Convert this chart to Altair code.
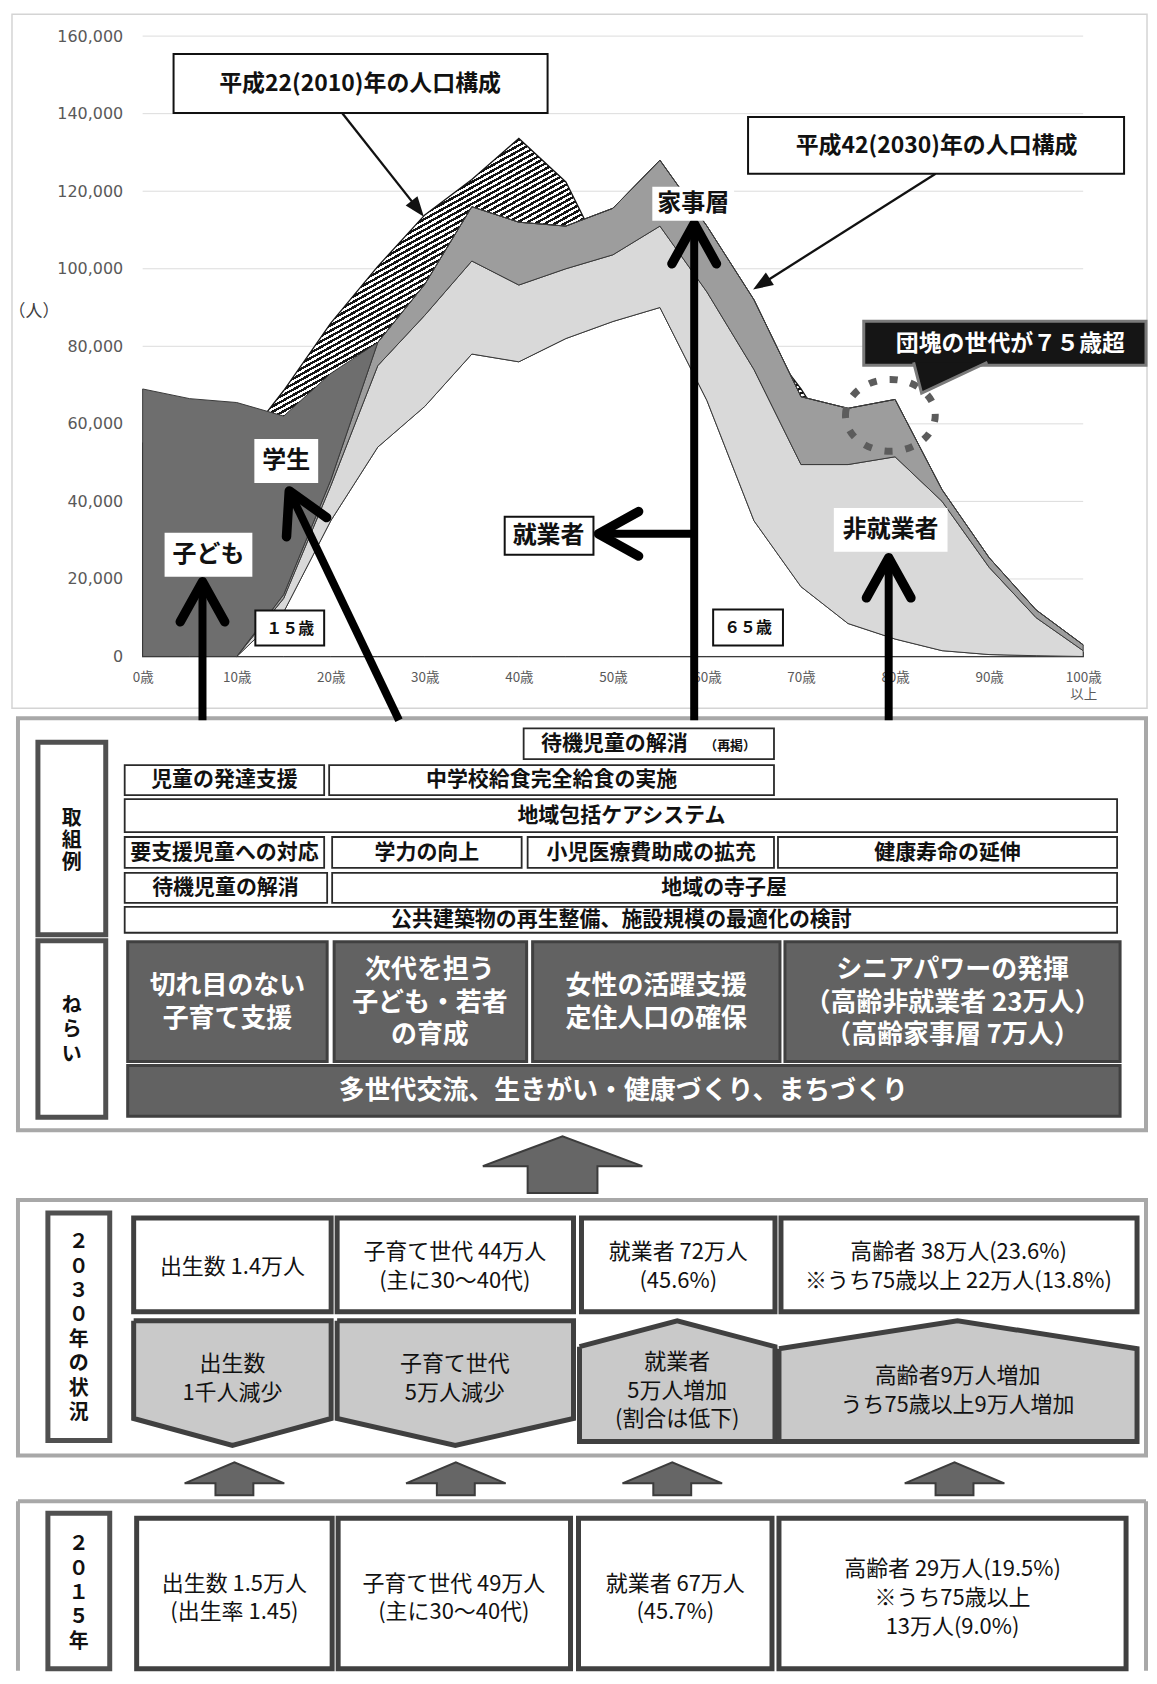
import math
import altair as alt
import pandas as pd

JP = "Noto Sans CJK JP"

# ---------------- population data (persons) ----------------
AGES = [0, 5, 10, 15, 20, 25, 30, 35, 40, 45, 50, 55, 60, 65, 70, 75, 80, 85, 90, 95, 100]
POP_2010 = [55000, 54000, 53000, 68600, 86000, 100600, 113900, 123000, 133600, 122400, 98000,
            95000, 90000, 85000, 69000, 50000, 35000, 20000, 8000, 3000, 1000]
WORKERS_2030 = [0, 0, 0, 11500, 35000, 54000, 64500, 78000, 76000, 82000, 86400,
                90000, 66000, 35000, 18000, 8500, 4500, 1500, 500, 200, 0]
NONWORKERS_2030 = [0, 0, 0, 3500, 9000, 21000, 23500, 24000, 19800, 18000, 17200,
                   21000, 28000, 39000, 31500, 41000, 47000, 38500, 22500, 9800, 1500]
HOMEMAKERS_2030 = [0, 0, 0, 1000, 1500, 6000, 8000, 14000, 16200, 11000, 12000,
                   17000, 17000, 18000, 17500, 14500, 14800, 3000, 2500, 2000, 1500]
CHILD_STUDENT_2030 = [69000, 66500, 65500, 46000, 27500, 0, 0, 0, 0, 0, 0,
                      0, 0, 0, 0, 0, 0, 0, 0, 0, 0]
SERIES_NAMES = ["就業者", "非就業者", "家事層", "子ども・学生"]
SERIES_VALUES = [WORKERS_2030, NONWORKERS_2030, HOMEMAKERS_2030, CHILD_STUDENT_2030]
SERIES_COLORS = ["#ffffff", "#d9d9d9", "#9d9d9d", "#6e6e6e"]

Y_TICKS = [0, 20000, 40000, 60000, 80000, 100000, 120000, 140000, 160000]
AGE_TICKS = [0, 10, 20, 30, 40, 50, 60, 70, 80, 90, 100]
AGE_TICK_LABELS = ["0歳", "10歳", "20歳", "30歳", "40歳", "50歳", "60歳", "70歳", "80歳", "90歳", "100歳\n以上"]

BUBBLE_AGE = [79.5]          # 団塊の世代 marker
BUBBLE_VALUE = [62200]

# ---------------- scales ----------------
X_AGE = alt.Scale(domain=[0, 100], range=[132, 1075], zero=False, nice=False)
Y_VAL = alt.Scale(domain=[0, 160000], range=[648, 26], zero=False, nice=False)
PX = alt.Scale(domain=[8, 1149], range=[0, 1141], zero=False, nice=False)
PY = alt.Scale(domain=[8, 1676], range=[0, 1668], zero=False, nice=False)


def js_label(lab):
    parts = lab.split("\n")
    if len(parts) == 1:
        return "'" + parts[0] + "'"
    return "[" + ", ".join("'" + p + "'" for p in parts) + "]"


label_expr = "''"
for v, lab in reversed(list(zip(AGE_TICKS, AGE_TICK_LABELS))):
    label_expr = f"datum.value == {v} ? {js_label(lab)} : {label_expr}"

x_axis = alt.Axis(values=AGE_TICKS, labelExpr=label_expr, orient="bottom", offset=-1020,
                  domain=False, ticks=False, grid=False, labelPadding=14, labelFont=JP,
                  labelFontSize=13.5, labelColor="#595959", title=None, labelOverlap=False,
                  labelFlush=False, labelLineHeight=17)
y_axis = alt.Axis(values=Y_TICKS, format=",d", orient="left", offset=-132, domain=False,
                  ticks=False, grid=False, labelPadding=20, labelFont="DejaVu Sans",
                  labelFontSize=16, labelColor="#595959", title=None)

# ---------------- population chart layers ----------------
df_grid = pd.DataFrame({"val": Y_TICKS, "a0": AGE_TICKS[0], "a1": AGE_TICKS[-1]})
grid = alt.Chart(df_grid).mark_rule(color="#dcdcdc", strokeWidth=1).encode(
    x=alt.X("a0:Q", scale=X_AGE, axis=x_axis), x2="a1:Q",
    y=alt.Y("val:Q", scale=Y_VAL, axis=y_axis))
zero_line = alt.Chart(df_grid.iloc[:1]).mark_rule(color="#bdbdbd", strokeWidth=1.2).encode(
    x=alt.X("a0:Q", scale=X_AGE, axis=None), x2="a1:Q",
    y=alt.Y("val:Q", scale=Y_VAL, axis=None))

N_STRIPES = 190
stops = []
for i in range(N_STRIPES):
    a, b, c = i / N_STRIPES, (i + 0.5) / N_STRIPES, (i + 1) / N_STRIPES
    stops += [{"offset": a, "color": "#151515"}, {"offset": b, "color": "#151515"},
              {"offset": b, "color": "#ffffff"}, {"offset": c, "color": "#ffffff"}]
HATCH = {"gradient": "linear", "x1": 0, "y1": 0, "x2": 1, "y2": 1, "stops": stops}

df_2010 = pd.DataFrame({"age": AGES, "pop": POP_2010})
area_2010 = alt.Chart(df_2010).mark_area(fill=HATCH, stroke="#151515", strokeWidth=1.3).encode(
    x=alt.X("age:Q", scale=X_AGE, axis=None),
    y=alt.Y("pop:Q", scale=Y_VAL, axis=None))

rows = []
for k, (name, vals) in enumerate(zip(SERIES_NAMES, SERIES_VALUES)):
    for a, v in zip(AGES, vals):
        rows.append({"age": a, "series": name, "value": v, "ord": k})
df_stack = pd.DataFrame(rows)
stacked = alt.Chart(df_stack).mark_area(stroke="#3a3a3a", strokeWidth=1, strokeJoin="round").encode(
    x=alt.X("age:Q", scale=X_AGE, axis=None),
    y=alt.Y("value:Q", scale=Y_VAL, axis=None, stack="zero"),
    color=alt.Color("series:N", scale=alt.Scale(domain=SERIES_NAMES, range=SERIES_COLORS), legend=None),
    order=alt.Order("ord:Q"))

ELLIPSE = "M -1 0 A 1 0.8 0 1 1 1 0 A 1 0.8 0 1 1 -1 0 Z"
bubble = alt.Chart(pd.DataFrame({"age": BUBBLE_AGE, "value": BUBBLE_VALUE})).mark_point(
    shape=ELLIPSE, size=8100, filled=False, color="#5c5c5c", strokeWidth=7,
    strokeDash=[8, 13], opacity=1).encode(
    x=alt.X("age:Q", scale=X_AGE, axis=None),
    y=alt.Y("value:Q", scale=Y_VAL, axis=None))

# ---------------- layout of the diagram (page pixels) ----------------
RECT_STYLES = {
    "chart_frame": dict(filled=False, stroke="#d4d4d4", strokeWidth=1.5),
    "panel": dict(fill="#ffffff", stroke="#a8a8a8", strokeWidth=4),
    "note_plain": dict(fill="#ffffff"),
    "note_boxed": dict(fill="#ffffff", stroke="#111111", strokeWidth=2),
    "callout": dict(fill="#151515", stroke="#7a7a7a", strokeWidth=3),
    "side": dict(fill="#ffffff", stroke="#505050", strokeWidth=5),
    "item": dict(fill="#ffffff", stroke="#2a2a2a", strokeWidth=1.8),
    "aim": dict(fill="#626262", stroke="#404040", strokeWidth=3),
    "stat": dict(fill="#ffffff", stroke="#404040", strokeWidth=5),
}
BOXES = [
    ("chart_frame", 9, 12, 1147, 708),
    ("panel", 15, 718, 1146, 1131),
    ("panel", 15, 1201, 1146, 1457),
    ("note_plain", 651, 185, 733, 219),
    ("note_plain", 833, 507, 947, 551),
    ("note_plain", 162, 532, 250, 576),
    ("note_plain", 252, 438, 316, 482),
    ("note_boxed", 171, 52, 546, 111),
    ("note_boxed", 747, 115, 1124, 172),
    ("note_boxed", 503, 516, 592, 554),
    ("note_boxed", 253, 610, 322, 645),
    ("note_boxed", 712, 609, 782, 645),
    ("callout", 863, 320, 1146, 364),
    ("side", 35, 742, 103, 935),
    ("side", 35, 941, 103, 1118),
    ("side", 45, 1214, 107, 1442),
    ("side", 45, 1515, 107, 1671),
    ("item", 522, 728, 773, 759),
    ("item", 122, 765, 322, 795),
    ("item", 327, 765, 773, 795),
    ("item", 122, 799, 1117, 832),
    ("item", 122, 837, 322, 868),
    ("item", 330, 837, 520, 868),
    ("item", 526, 837, 773, 868),
    ("item", 777, 837, 1117, 868),
    ("item", 122, 873, 325, 903),
    ("item", 330, 873, 1117, 903),
    ("item", 122, 907, 1117, 933),
    ("aim", 125, 942, 325, 1062),
    ("aim", 332, 942, 525, 1062),
    ("aim", 531, 942, 779, 1062),
    ("aim", 784, 942, 1120, 1062),
    ("aim", 125, 1066, 1120, 1117),
    ("stat", 131, 1219, 329, 1313),
    ("stat", 335, 1219, 572, 1313),
    ("stat", 580, 1219, 774, 1313),
    ("stat", 780, 1219, 1137, 1313),
    ("stat", 134, 1520, 330, 1671),
    ("stat", 336, 1520, 569, 1671),
    ("stat", 577, 1520, 771, 1671),
    ("stat", 778, 1520, 1126, 1671),
]

TEXT_STYLES = {
    "title": dict(fontSize=23, fontWeight="bold", color="#111111"),
    "tag": dict(fontSize=24, fontWeight="bold", color="#111111"),
    "age": dict(fontSize=16, fontWeight="bold", color="#111111"),
    "callout": dict(fontSize=23, fontWeight="bold", color="#ffffff"),
    "unit": dict(fontSize=17, color="#404040"),
    "side": dict(fontSize=20, fontWeight="bold", color="#111111", lineHeight=24.5),
    "side_tight": dict(fontSize=20, fontWeight="bold", color="#111111", lineHeight=22.5),
    "item": dict(fontSize=21, fontWeight="bold", color="#111111"),
    "item_small": dict(fontSize=13, fontWeight="bold", color="#111111"),
    "aim": dict(fontSize=26, fontWeight="bold", color="#ffffff", lineHeight=33),
    "stat": dict(fontSize=22, color="#111111", lineHeight=29),
}
TEXTS = [
    ("title", 358, 82, "平成22(2010)年の人口構成"),
    ("title", 936, 144, "平成42(2030)年の人口構成"),
    ("tag", 692, 202, "家事層"),
    ("tag", 547, 535, "就業者"),
    ("tag", 890, 529, "非就業者"),
    ("tag", 206, 554, "子ども"),
    ("tag", 284, 460, "学生"),
    ("age", 288, 628, "１５歳"),
    ("age", 747, 627, "６５歳"),
    ("callout", 1010, 343, "団塊の世代が７５歳超"),
    ("unit", 31, 311, "（人）"),
    ("side_tight", 69, 841, "取\n組\n例"),
    ("side", 69, 1031, "ね\nら\nい"),
    ("side", 76, 1329, "２\n０\n３\n０\n年\nの\n状\n況"),
    ("side", 76, 1595, "２\n０\n１\n５\n年"),
    ("item", 613, 744, "待機児童の解消"),
    ("item_small", 729, 746, "（再掲）"),
    ("item", 222, 780, "児童の発達支援"),
    ("item", 550, 780, "中学校給食完全給食の実施"),
    ("item", 620, 816, "地域包括ケアシステム"),
    ("item", 222, 853, "要支援児童への対応"),
    ("item", 425, 853, "学力の向上"),
    ("item", 650, 853, "小児医療費助成の拡充"),
    ("item", 947, 853, "健康寿命の延伸"),
    ("item", 223, 888, "待機児童の解消"),
    ("item", 723, 888, "地域の寺子屋"),
    ("item", 620, 920, "公共建築物の再生整備、施設規模の最適化の検討"),
    ("aim", 225, 1003, "切れ目のない\n子育て支援"),
    ("aim", 428, 1003, "次代を担う\n子ども・若者\nの育成"),
    ("aim", 655, 1003, "女性の活躍支援\n定住人口の確保"),
    ("aim", 952, 1003, "シニアパワーの発揮\n（高齢非就業者 23万人）\n（高齢家事層 7万人）"),
    ("aim", 622, 1092, "多世代交流、生きがい・健康づくり、まちづくり"),
    ("stat", 230, 1268, "出生数 1.4万人"),
    ("stat", 453, 1268, "子育て世代 44万人\n(主に30～40代)"),
    ("stat", 677, 1268, "就業者 72万人\n(45.6%)"),
    ("stat", 958, 1268, "高齢者 38万人(23.6%)\n※うち75歳以上 22万人(13.8%)"),
    ("stat", 230, 1380, "出生数\n1千人減少"),
    ("stat", 453, 1380, "子育て世代\n5万人減少"),
    ("stat", 676, 1392, "就業者\n5万人増加\n(割合は低下)"),
    ("stat", 957, 1392, "高齢者9万人増加\nうち75歳以上9万人増加"),
    ("stat", 232, 1600, "出生数 1.5万人\n(出生率 1.45)"),
    ("stat", 452, 1600, "子育て世代 49万人\n(主に30～40代)"),
    ("stat", 674, 1600, "就業者 67万人\n(45.7%)"),
    ("stat", 952, 1600, "高齢者 29万人(19.5%)\n※うち75歳以上\n13万人(9.0%)"),
]

# thick arrows: (start, tip)
THICK_ARROWS = [((200, 720), (200, 581)), ((397, 720), (287, 490)), ((693, 720), (693, 222)),
                ((693, 533), (597, 533)), ((888, 720), (888, 557))]
# thin callout arrows: (start, tip)
THIN_ARROWS = [((340, 111), (422, 215)), ((935, 172), (752, 288))]
FRAME3_SIDES = [(15, 1503, 1146, 1503), (15, 1503, 15, 1673), (1146, 1503, 1146, 1673)]

POLY_STYLES = {
    "shape": dict(fill="#c9c9c9", stroke="#404040", strokeWidth=5, strokeJoin="miter"),
    "bigarrow": dict(fill="#666666", stroke="#3c3c3c", strokeWidth=2, strokeJoin="miter"),
    "tail": dict(fill="#151515", stroke="#7a7a7a", strokeWidth=3, strokeJoin="miter"),
}


def down_pent(x0, x1, top, side, tip):
    return [(x0, top), (x1, top), (x1, side), ((x0 + x1) / 2, tip), (x0, side), (x0, top)]


def up_house(x0, x1, apex_x, apex, shoulder, bottom):
    return [(x0, shoulder), (apex_x, apex), (x1, shoulder), (x1, bottom), (x0, bottom), (x0, shoulder)]


def up_arrow(cx, apex, base, bottom, head_half, shaft_half):
    return [(cx - head_half, base), (cx, apex), (cx + head_half, base), (cx + shaft_half, base),
            (cx + shaft_half, bottom), (cx - shaft_half, bottom), (cx - shaft_half, base),
            (cx - head_half, base)]


POLYS = [
    ("shape", down_pent(131, 329, 1322, 1420, 1447)),
    ("shape", down_pent(335, 572, 1322, 1420, 1447)),
    ("shape", up_house(578, 774, 676, 1322, 1348, 1443)),
    ("shape", up_house(778, 1137, 957, 1322, 1350, 1443)),
    ("bigarrow", up_arrow(561, 1137, 1167, 1194, 80, 35)),
    ("bigarrow", up_arrow(232, 1464, 1485, 1497, 50, 19)),
    ("bigarrow", up_arrow(454, 1464, 1485, 1497, 50, 19)),
    ("bigarrow", up_arrow(671, 1464, 1485, 1497, 50, 19)),
    ("bigarrow", up_arrow(954, 1464, 1485, 1497, 50, 19)),
    ("tail", [(913, 361), (921, 392), (987, 361)]),
]


def lx(f):
    return alt.X(f"{f}:Q", scale=PX, axis=None)


def ly(f):
    return alt.Y(f"{f}:Q", scale=PY, axis=None)


def rect_layer(style):
    d = pd.DataFrame([dict(x0=b[1], y0=b[2], x1=b[3], y1=b[4]) for b in BOXES if b[0] == style])
    return alt.Chart(d).mark_rect(**RECT_STYLES[style]).encode(
        x=lx("x0"), x2="x1:Q", y=ly("y0"), y2="y1:Q")


def text_layer(style):
    st = TEXT_STYLES[style]
    lh = st.get("lineHeight", st["fontSize"] * 1.2)
    rows = []
    for t in TEXTS:
        if t[0] != style:
            continue
        n = t[3].count("\n") + 1
        # Vega anchors the first line; shift so the block is centred on the given point
        rows.append(dict(x=t[1], y=t[2] - (n - 1) * lh / 2, t=t[3]))
    return alt.Chart(pd.DataFrame(rows)).mark_text(font=JP, lineBreak="\n", align="center",
                                                   baseline="middle", **st).encode(
        x=lx("x"), y=ly("y"), text="t:N")


def poly_layer(style):
    rows = []
    for pid, (s, pts) in enumerate(POLYS):
        if s != style:
            continue
        for k, (x, y) in enumerate(pts):
            rows.append(dict(pid=pid, k=k, x=x, y=y))
    return alt.Chart(pd.DataFrame(rows)).mark_line(**POLY_STYLES[style]).encode(
        x=lx("x"), y=ly("y"), detail="pid:N", order="k:Q")


# arrow shafts
shaft_df = pd.DataFrame([dict(x0=s[0], y0=s[1], x1=t[0], y1=t[1]) for s, t in THICK_ARROWS])
shafts = alt.Chart(shaft_df).mark_rule(color="#000000", strokeWidth=8).encode(
    x=lx("x0"), x2="x1:Q", y=ly("y0"), y2="y1:Q")

chev_rows = []
for i, (s, t) in enumerate(THICK_ARROWS):
    dx, dy = s[0] - t[0], s[1] - t[1]
    L = math.hypot(dx, dy)
    ux, uy = dx / L, dy / L
    arms = []
    for sgn in (1, -1):
        a = math.radians(29) * sgn
        rx = ux * math.cos(a) - uy * math.sin(a)
        ry = ux * math.sin(a) + uy * math.cos(a)
        arms.append((t[0] + 46 * rx, t[1] + 46 * ry))
    for k, (x, y) in enumerate([arms[0], t, arms[1]]):
        chev_rows.append(dict(cid=i, k=k, x=x, y=y))
chevrons = alt.Chart(pd.DataFrame(chev_rows)).mark_line(
    color="#000000", strokeWidth=9.5, strokeCap="round", strokeJoin="round").encode(
    x=lx("x"), y=ly("y"), detail="cid:N", order="k:Q")

thin_rows, head_rows = [], []
for s, t in THIN_ARROWS:
    dx, dy = t[0] - s[0], t[1] - s[1]
    L = math.hypot(dx, dy)
    ux, uy = dx / L, dy / L
    thin_rows.append(dict(x0=s[0], y0=s[1], x1=t[0] - 16 * ux, y1=t[1] - 16 * uy))
    ang = math.degrees(math.atan2(dx, -dy)) % 360
    head_rows.append(dict(x=t[0] - 10 * ux, y=t[1] - 10 * uy, ang=ang))
thin = alt.Chart(pd.DataFrame(thin_rows)).mark_rule(color="#111111", strokeWidth=2.3).encode(
    x=lx("x0"), x2="x1:Q", y=ly("y0"), y2="y1:Q")
HEAD = "M 0 -1 L 0.75 1 L -0.75 1 Z"
heads = alt.Chart(pd.DataFrame(head_rows)).mark_point(
    shape=HEAD, size=400, filled=True, color="#111111", opacity=1).encode(
    x=lx("x"), y=ly("y"), angle=alt.Angle("ang:Q", scale=None))

frame3 = alt.Chart(pd.DataFrame([dict(x0=a, y0=b, x1=c, y1=d) for a, b, c, d in FRAME3_SIDES])).mark_rule(
    color="#a8a8a8", strokeWidth=4).encode(x=lx("x0"), x2="x1:Q", y=ly("y0"), y2="y1:Q")

layers = [
    grid, zero_line, area_2010, stacked, bubble,
    rect_layer("chart_frame"), rect_layer("panel"), frame3,
    shafts, chevrons, thin, heads,
    rect_layer("note_plain"), rect_layer("note_boxed"), rect_layer("callout"), poly_layer("tail"),
    rect_layer("side"), rect_layer("item"), rect_layer("aim"), rect_layer("stat"),
    poly_layer("shape"), poly_layer("bigarrow"),
]
for st in TEXT_STYLES:
    layers.append(text_layer(st))

chart = alt.layer(*layers).resolve_scale(x="independent", y="independent").properties(
    width=1141, height=1668, padding=0, background="#ffffff"
).configure_view(stroke=None)

chart.save("out.html", embed_options={"renderer": "svg", "actions": False})
